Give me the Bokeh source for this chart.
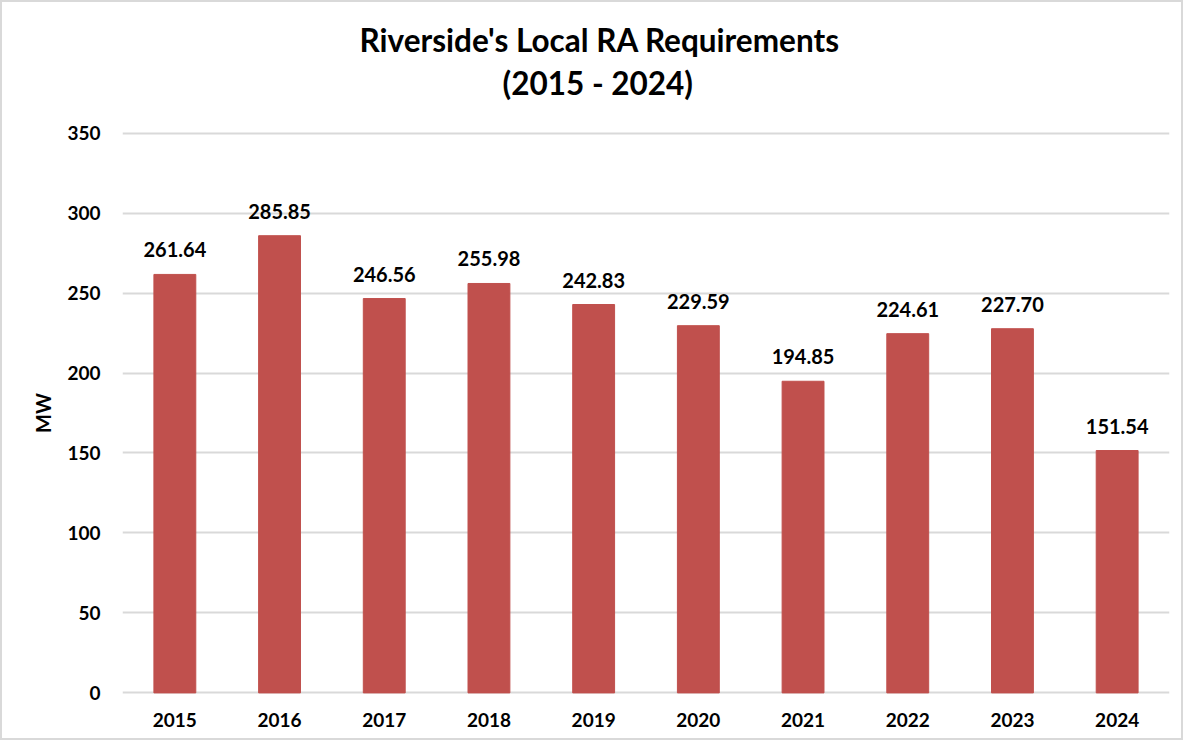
from bokeh.plotting import figure
from bokeh.models import Title, ColumnDataSource, FactorRange, Range1d, FixedTicker
from bokeh.embed import file_html
from bokeh.resources import INLINE
from bokeh.core.properties import value

years = ["2015", "2016", "2017", "2018", "2019", "2020", "2021", "2022", "2023", "2024"]
mw = [261.64, 285.85, 246.56, 255.98, 242.83, 229.59, 194.85, 224.61, 227.70, 151.54]
labels = ["%.2f" % v for v in mw]
y_ticks = [0, 50, 100, 150, 200, 250, 300, 350]
title_1 = "Riverside's Local RA Requirements"
title_2 = "(2015 - 2024)"

FONT = "Lato"
BAR = "#C0504D"

src = ColumnDataSource(dict(x=years, y=mw, lab=labels))

p = figure(width=1183, height=740, x_range=FactorRange(*years), y_range=Range1d(-1, 351),
           output_backend="svg", toolbar_location=None, title=None,
           min_border_left=120, min_border_right=16, min_border_top=129, min_border_bottom=48)
p.styles = {"border": "2px solid #D9D9D9", "box-sizing": "border-box"}
p.outline_line_color = None
p.background_fill_color = "white"
p.border_fill_color = "white"

# spacer between frame and titles
p.add_layout(Title(text=" ", text_font_size="1px", standoff=24), "above")
p.add_layout(Title(text=title_2, align="left", offset=380, text_font=FONT, text_font_size="31.5px",
                   text_font_style="bold", text_color="black", standoff=6), "above")
p.add_layout(Title(text=title_1, align="left", offset=237, text_font=FONT, text_font_size="31.5px",
                   text_font_style="bold", text_color="black", standoff=0), "above")

p.vbar(x="x", top="y", bottom=0, width=0.4, source=src, color=BAR, line_color=BAR)
p.text(x="x", y="y", text="lab", source=src, text_align="center", text_baseline="bottom",
       y_offset=-17, text_font=value(FONT), text_font_size="20px", text_font_style="bold",
       text_color="black")

p.xgrid.grid_line_color = None
p.ygrid.grid_line_color = "#D9D9D9"
p.ygrid.grid_line_width = 2
p.yaxis.ticker = FixedTicker(ticks=y_ticks)

for ax in (p.xaxis[0], p.yaxis[0]):
    ax.axis_line_color = None
    ax.major_tick_line_color = None
    ax.minor_tick_line_color = None
    ax.major_label_text_font = FONT
    ax.major_label_text_font_size = "19px"
    ax.major_label_text_font_style = "bold"
    ax.major_label_text_color = "black"

p.yaxis.major_label_standoff = 16
p.xaxis.major_label_standoff = 12
p.yaxis.axis_label = "MW"
p.yaxis.axis_label_text_font = FONT
p.yaxis.axis_label_text_font_size = "20px"
p.yaxis.axis_label_text_font_style = "bold"
p.yaxis.axis_label_text_color = "black"
p.yaxis.axis_label_standoff = 9

open("out.html", "w").write(file_html(p, INLINE))
